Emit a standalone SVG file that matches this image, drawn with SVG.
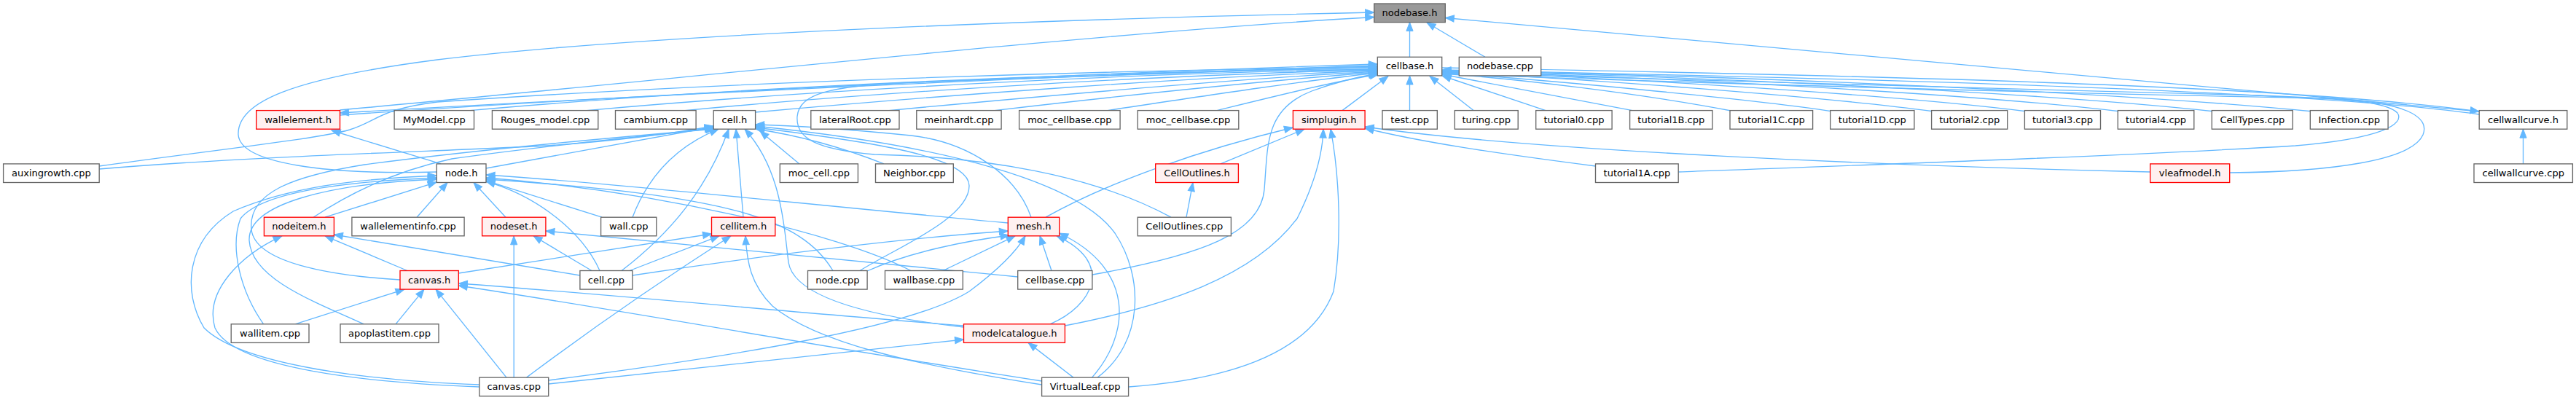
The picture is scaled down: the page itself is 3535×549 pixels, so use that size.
<svg xmlns="http://www.w3.org/2000/svg" width="3535" height="549" viewBox="0 0 3535 549">
<style>
.nd rect{fill:#ffffff;stroke:#666666;stroke-width:1.33}
.nd.r rect{fill:#fff0f0;stroke:#ff0000}
.nd.g rect{fill:#999999;stroke:#666666}
.nd text{font-family:"DejaVu Sans","Noto Sans",sans-serif;font-size:13px;text-anchor:middle;fill:#000000}
.e path{fill:none;stroke:#63b8ff;stroke-width:1.33;marker-end:url(#a)}
</style>
<defs>
<marker id="a" markerUnits="userSpaceOnUse" markerWidth="14" markerHeight="11" refX="12" refY="5" orient="auto" overflow="visible">
<path d="M0,0.4 L12,5 L0,9.6 Z" fill="#63b8ff" stroke="#63b8ff" stroke-width="1"/>
</marker>
</defs>
<rect x="0" y="0" width="3535" height="549" fill="#ffffff"/>
<g id="edges" class="e">
<path d="M1934.5,78.3 L1934.5,30.6"/>
<path d="M2038,78.3 L1958,31"/>
<path d="M3403,153 L1983.3,24.5"/>
<path d="M466.5,151 C900,112 1500,45 1885.7,23.5"/>
<path d="M599.2,236 C450,240 330,225 327,185 C325,140 400,108 600,82 C900,45 1500,25 1885.7,17"/>
<path d="M605,224.9 L455,179"/>
<path d="M1890.3,90 C1500,102 900,130 466.5,155"/>
<path d="M466.5,158 C900,128 1500,100 1890.3,88"/>
<path d="M136.2,228 C300,205 440,190 480,178 C520,165 520,150 600,140 C1000,112 1500,97 1890.3,92"/>
<path d="M645,151.6 C1000,120 1500,98 1890.3,94"/>
<path d="M805,151.6 C1100,125 1550,100 1890.3,95"/>
<path d="M940,151.6 C1200,127 1600,102 1890.3,96"/>
<path d="M1036.6,154 C1300,130 1650,105 1890.3,97"/>
<path d="M1220,151.6 C1450,130 1700,108 1890.3,98"/>
<path d="M1365,151.6 C1550,130 1750,110 1890.3,99"/>
<path d="M1520,151.6 C1650,132 1780,112 1890.3,100"/>
<path d="M1670,151.6 C1750,132 1830,112 1892,102"/>
<path d="M1842,151.6 L1905,104.5"/>
<path d="M1934.5,151.6 L1934.5,104"/>
<path d="M2022,151.6 L1962,104.5"/>
<path d="M1499,377 C1650,350 1730,320 1735,260 C1740,200 1735,150 1800,125 C1830,114 1860,106 1890.3,101"/>
<path d="M1607,298.2 C1500,240 1350,215 1200,212 C1120,205 1092,190 1094,160 C1097,128 1140,118 1250,113 C1500,104 1750,96 1890.3,91"/>
<path d="M2121,151.6 L1979,104"/>
<path d="M2240,151.6 L1979,102"/>
<path d="M2378,152.5 C2250,128 2080,108 1979,101"/>
<path d="M2515,153 C2400,135 2100,108 1979,100"/>
<path d="M2654,153 C2500,132 2150,106 1979,99.5"/>
<path d="M2782,153 C2600,130 2200,105 1979,99"/>
<path d="M2910,153 C2700,128 2250,104 1979,98.5"/>
<path d="M3039,153 C2800,127 2300,103 1979,98"/>
<path d="M3174,153 C2900,126 2350,102 1979,97.5"/>
<path d="M2303.2,236 C2600,225 2935,213 3150,200 C3270,190 3300,170 3290,155 C3275,140 3230,136 3100,131 C2700,120 2200,108 1979,100"/>
<path d="M3059.7,237 C3200,236 3310,220 3325,185 C3335,160 3300,140 3200,135 C2800,128 2200,110 1979,101"/>
<path d="M3402,157 C3200,128 2700,110 1979,96"/>
<path d="M1979,93 C2600,104 3150,118 3402,153"/>
<path d="M1435,298.2 C1520,250 1650,205 1774.4,175"/>
<path d="M1675,224.9 L1790,177.2"/>
<path d="M2189.5,228 C2050,210 1950,195 1873.1,176"/>
<path d="M2950.7,236 C2600,228 2100,207 1873.1,174"/>
<path d="M1548.6,531 C1700,520 1800,480 1830,400 C1842,330 1838,240 1826,177.2"/>
<path d="M1461.4,447 C1600,420 1720,380 1780,300 C1805,250 1815,210 1816,177.2"/>
<path d="M1628,298.2 L1637,250.5"/>
<path d="M3462.5,224.9 L3462.5,177.2"/>
<path d="M136.2,232 C350,214 600,208 750,200 C850,193 930,182 979.2,173"/>
<path d="M667,231 L979.2,174"/>
<path d="M430,298.2 C480,265 540,235 620,218 C760,198 900,186 979.2,176"/>
<path d="M549,384 C450,378 350,360 345,315 C340,265 400,242 500,226 C650,206 850,188 981,177"/>
<path d="M868,298.2 C890,240 930,200 986,177.2"/>
<path d="M853,371.5 C920,320 970,260 1000,177.2"/>
<path d="M1020,298.2 L1010,177.2"/>
<path d="M1097,224.9 L1043,180"/>
<path d="M1213,224.9 C1150,200 1090,185 1037,177"/>
<path d="M1415,298.2 C1395,240 1330,195 1250,186 C1150,176 1080,172 1036.6,171"/>
<path d="M1180,371.5 C1230,340 1330,300 1330,255 C1330,215 1200,195 1036.6,175"/>
<path d="M1506,518.1 C1570,470 1570,380 1530,320 C1480,250 1300,200 1036.6,173"/>
<path d="M1322.5,449 C1200,435 1090,410 1082,360 C1075,300 1070,230 1022,177.2"/>
<path d="M572,298.2 L614,250.5"/>
<path d="M446,298.2 L599.2,250"/>
<path d="M694,298.2 L650,250.5"/>
<path d="M826,298.2 L667,248"/>
<path d="M823,371.5 C800,320 740,270 667,249"/>
<path d="M1383.3,306 C1100,280 850,252 667,240"/>
<path d="M1250,371.5 C1150,320 900,262 667,244"/>
<path d="M1143,371.5 C1100,300 1000,268 667,246"/>
<path d="M657.8,528 C500,522 330,500 280,450 C250,400 255,330 320,290 C400,255 500,245 599.2,241"/>
<path d="M361.6,444.8 C330,400 315,340 330,300 C360,262 480,249 599.2,244"/>
<path d="M499.5,444.8 C420,410 345,380 342,330 C340,280 450,252 599.2,246"/>
<path d="M795.9,378 L458.4,322"/>
<path d="M559,371.5 L446,323.8"/>
<path d="M657.8,531 C500,525 320,505 295,450 C280,400 330,350 387,323.8"/>
<path d="M405,444.8 L555,397.1"/>
<path d="M543,444.8 L582,397.1"/>
<path d="M695,518.1 L598,397.1"/>
<path d="M1322.5,447 C1100,430 850,405 629.3,389"/>
<path d="M1429.6,523 C1150,480 850,425 629.3,392"/>
<path d="M629.3,375 L976.5,321"/>
<path d="M1396.7,380 C1150,355 900,330 748.9,317"/>
<path d="M812,371.5 L732,323.8"/>
<path d="M705.2,518.1 L705.2,323.8"/>
<path d="M864,371.5 L987,323.8"/>
<path d="M722.5,518.1 C800,460 900,390 1003,323.8"/>
<path d="M1429.6,528 C1250,500 1120,470 1060,420 C1030,390 1025,360 1023,323.8"/>
<path d="M867.9,378 C1050,350 1250,326 1383.3,317"/>
<path d="M1190,372 C1250,345 1330,330 1385,323"/>
<path d="M1294,371.5 L1393,323.8"/>
<path d="M752.7,522 C1000,490 1250,450 1330,400 C1370,370 1395,345 1407,323.8"/>
<path d="M1443,371.5 L1427,323.8"/>
<path d="M1441,444.8 C1500,420 1530,360 1450,323.8"/>
<path d="M1498.5,518.1 C1550,460 1560,370 1453.7,320"/>
<path d="M752.7,527 C1000,500 1200,478 1322.5,466"/>
<path d="M1473,518.1 L1411,470.4"/>
</g>
<g id="nodebase_h" class="nd g"><rect x="1885.7" y="5" width="97.6" height="25.6"/><text x="1934.5" y="22">nodebase.h</text></g>
<g id="cellbase_h" class="nd"><rect x="1890.3" y="78.3" width="88.4" height="25.6"/><text x="1934.5" y="95.3">cellbase.h</text></g>
<g id="nodebase_cpp" class="nd"><rect x="2002.3" y="78.3" width="112.4" height="25.6"/><text x="2058.5" y="95.3">nodebase.cpp</text></g>
<g id="wallelement_h" class="nd r"><rect x="351.7" y="151.6" width="114.8" height="25.6"/><text x="409.1" y="168.6">wallelement.h</text></g>
<g id="MyModel_cpp" class="nd"><rect x="541.1" y="151.6" width="109.4" height="25.6"/><text x="595.8" y="168.6">MyModel.cpp</text></g>
<g id="Rouges_model_cpp" class="nd"><rect x="675.4" y="151.6" width="145.4" height="25.6"/><text x="748.1" y="168.6">Rouges_model.cpp</text></g>
<g id="cambium_cpp" class="nd"><rect x="844.5" y="151.6" width="110.6" height="25.6"/><text x="899.8" y="168.6">cambium.cpp</text></g>
<g id="cell_h" class="nd"><rect x="979.2" y="151.6" width="57.4" height="25.6"/><text x="1007.9" y="168.6">cell.h</text></g>
<g id="lateralRoot_cpp" class="nd"><rect x="1112.8" y="151.6" width="121.2" height="25.6"/><text x="1173.4" y="168.6">lateralRoot.cpp</text></g>
<g id="meinhardt_cpp" class="nd"><rect x="1257.8" y="151.6" width="116.3" height="25.6"/><text x="1316" y="168.6">meinhardt.cpp</text></g>
<g id="moc_cellbase_cpp_1" class="nd"><rect x="1398.6" y="151.6" width="138.5" height="25.6"/><text x="1467.9" y="168.6">moc_cellbase.cpp</text></g>
<g id="moc_cellbase_cpp_2" class="nd"><rect x="1561.2" y="151.6" width="138.6" height="25.6"/><text x="1630.5" y="168.6">moc_cellbase.cpp</text></g>
<g id="simplugin_h" class="nd r"><rect x="1774.4" y="151.6" width="98.7" height="25.6"/><text x="1823.8" y="168.6">simplugin.h</text></g>
<g id="test_cpp" class="nd"><rect x="1897" y="151.6" width="75.3" height="25.6"/><text x="1934.7" y="168.6">test.cpp</text></g>
<g id="turing_cpp" class="nd"><rect x="1996.3" y="151.6" width="86.9" height="25.6"/><text x="2039.8" y="168.6">turing.cpp</text></g>
<g id="tutorial0_cpp" class="nd"><rect x="2107.7" y="151.6" width="104.4" height="25.6"/><text x="2159.9" y="168.6">tutorial0.cpp</text></g>
<g id="tutorial1B_cpp" class="nd"><rect x="2236.6" y="151.6" width="113.3" height="25.6"/><text x="2293.3" y="168.6">tutorial1B.cpp</text></g>
<g id="tutorial1C_cpp" class="nd"><rect x="2374" y="151.6" width="113.6" height="25.6"/><text x="2430.8" y="168.6">tutorial1C.cpp</text></g>
<g id="tutorial1D_cpp" class="nd"><rect x="2511.7" y="151.6" width="115.2" height="25.6"/><text x="2569.3" y="168.6">tutorial1D.cpp</text></g>
<g id="tutorial2_cpp" class="nd"><rect x="2650.6" y="151.6" width="104.1" height="25.6"/><text x="2702.7" y="168.6">tutorial2.cpp</text></g>
<g id="tutorial3_cpp" class="nd"><rect x="2778.4" y="151.6" width="104.1" height="25.6"/><text x="2830.5" y="168.6">tutorial3.cpp</text></g>
<g id="tutorial4_cpp" class="nd"><rect x="2906.3" y="151.6" width="104.5" height="25.6"/><text x="2958.6" y="168.6">tutorial4.cpp</text></g>
<g id="CellTypes_cpp" class="nd"><rect x="3035.3" y="151.6" width="110.9" height="25.6"/><text x="3090.8" y="168.6">CellTypes.cpp</text></g>
<g id="Infection_cpp" class="nd"><rect x="3170.3" y="151.6" width="106.8" height="25.6"/><text x="3223.7" y="168.6">Infection.cpp</text></g>
<g id="cellwallcurve_h" class="nd"><rect x="3402.2" y="151.6" width="120.6" height="25.6"/><text x="3462.5" y="168.6">cellwallcurve.h</text></g>
<g id="auxingrowth_cpp" class="nd"><rect x="4.6" y="224.9" width="131.6" height="25.6"/><text x="70.4" y="241.9">auxingrowth.cpp</text></g>
<g id="node_h" class="nd"><rect x="599.2" y="224.9" width="67.8" height="25.6"/><text x="633.1" y="241.9">node.h</text></g>
<g id="moc_cell_cpp" class="nd"><rect x="1070.3" y="224.9" width="107.1" height="25.6"/><text x="1123.9" y="241.9">moc_cell.cpp</text></g>
<g id="Neighbor_cpp" class="nd"><rect x="1201.5" y="224.9" width="106.8" height="25.6"/><text x="1254.9" y="241.9">Neighbor.cpp</text></g>
<g id="CellOutlines_h" class="nd r"><rect x="1585.7" y="224.9" width="113.7" height="25.6"/><text x="1642.6" y="241.9">CellOutlines.h</text></g>
<g id="tutorial1A_cpp" class="nd"><rect x="2189.5" y="224.9" width="113.7" height="25.6"/><text x="2246.4" y="241.9">tutorial1A.cpp</text></g>
<g id="vleafmodel_h" class="nd r"><rect x="2950.7" y="224.9" width="109" height="25.6"/><text x="3005.2" y="241.9">vleafmodel.h</text></g>
<g id="cellwallcurve_cpp" class="nd"><rect x="3395" y="224.9" width="135.4" height="25.6"/><text x="3462.7" y="241.9">cellwallcurve.cpp</text></g>
<g id="nodeitem_h" class="nd r"><rect x="362.4" y="298.2" width="96" height="25.6"/><text x="410.4" y="315.2">nodeitem.h</text></g>
<g id="wallelementinfo_cpp" class="nd"><rect x="482.9" y="298.2" width="154.2" height="25.6"/><text x="560" y="315.2">wallelementinfo.cpp</text></g>
<g id="nodeset_h" class="nd r"><rect x="661.6" y="298.2" width="87.3" height="25.6"/><text x="705.2" y="315.2">nodeset.h</text></g>
<g id="wall_cpp" class="nd"><rect x="824.6" y="298.2" width="76.2" height="25.6"/><text x="862.7" y="315.2">wall.cpp</text></g>
<g id="cellitem_h" class="nd r"><rect x="976.5" y="298.2" width="87.3" height="25.6"/><text x="1020.2" y="315.2">cellitem.h</text></g>
<g id="mesh_h" class="nd r"><rect x="1383.3" y="298.2" width="70.4" height="25.6"/><text x="1418.5" y="315.2">mesh.h</text></g>
<g id="CellOutlines_cpp" class="nd"><rect x="1561.2" y="298.2" width="128.2" height="25.6"/><text x="1625.3" y="315.2">CellOutlines.cpp</text></g>
<g id="canvas_h" class="nd r"><rect x="549" y="371.5" width="80.3" height="25.6"/><text x="589.2" y="388.5">canvas.h</text></g>
<g id="cell_cpp" class="nd"><rect x="795.9" y="371.5" width="72" height="25.6"/><text x="831.9" y="388.5">cell.cpp</text></g>
<g id="node_cpp" class="nd"><rect x="1108.5" y="371.5" width="81.6" height="25.6"/><text x="1149.3" y="388.5">node.cpp</text></g>
<g id="wallbase_cpp" class="nd"><rect x="1214.5" y="371.5" width="106.8" height="25.6"/><text x="1267.9" y="388.5">wallbase.cpp</text></g>
<g id="cellbase_cpp" class="nd"><rect x="1396.7" y="371.5" width="102.2" height="25.6"/><text x="1447.8" y="388.5">cellbase.cpp</text></g>
<g id="wallitem_cpp" class="nd"><rect x="317.2" y="444.8" width="106.8" height="25.6"/><text x="370.6" y="461.8">wallitem.cpp</text></g>
<g id="apoplastitem_cpp" class="nd"><rect x="467" y="444.8" width="135" height="25.6"/><text x="534.5" y="461.8">apoplastitem.cpp</text></g>
<g id="modelcatalogue_h" class="nd r"><rect x="1322.5" y="444.8" width="138.9" height="25.6"/><text x="1392" y="461.8">modelcatalogue.h</text></g>
<g id="canvas_cpp" class="nd"><rect x="657.8" y="518.1" width="94.9" height="25.6"/><text x="705.2" y="535.1">canvas.cpp</text></g>
<g id="VirtualLeaf_cpp" class="nd"><rect x="1429.6" y="518.1" width="119" height="25.6"/><text x="1489.1" y="535.1">VirtualLeaf.cpp</text></g>
</svg>
